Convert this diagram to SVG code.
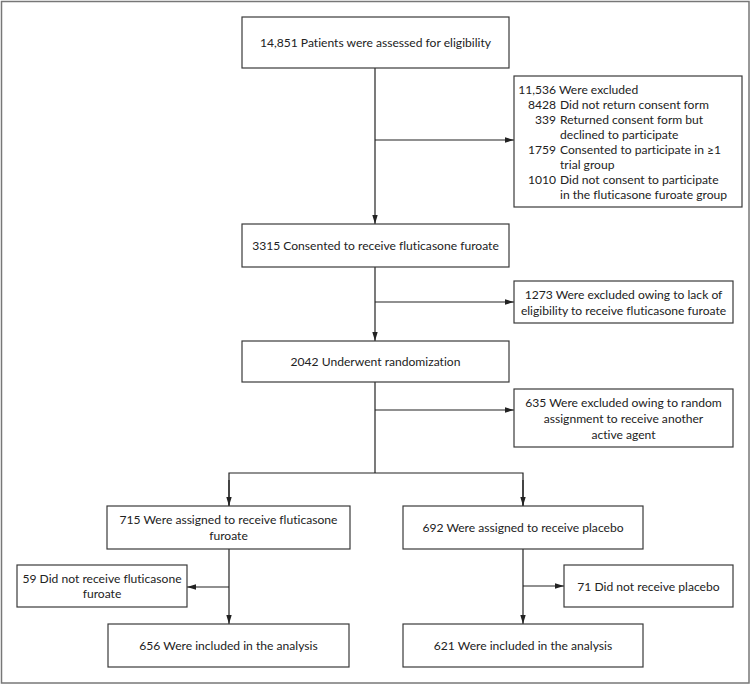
<svg xmlns="http://www.w3.org/2000/svg" width="751" height="685" viewBox="0 0 751 685">
<style>
  .box { fill: #ffffff; stroke: #3a3a3a; stroke-width: 1.2; }
  .t { font-family: Lato, "Open Sans", sans-serif; font-size: 12.1px; fill: #222; font-variant-ligatures: none; }
  .c { text-anchor: middle; }
  .e { text-anchor: end; }
  .ln { stroke: #222; stroke-width: 1.2; fill: none; }
</style>
<defs>
  <marker id="ah" viewBox="0 0 10 10" refX="10" refY="5" markerWidth="9" markerHeight="9" markerUnits="userSpaceOnUse" orient="auto">
    <path d="M0,2 L10,5 L0,8 Z" fill="#222"/>
  </marker>
</defs>
<rect x="0" y="0" width="751" height="685" fill="#ffffff"/>
<rect x="1.5" y="1.5" width="747.5" height="681.5" fill="none" stroke="#777" stroke-width="1.5"/>

<g id="connectors">
  <line class="ln" x1="375" y1="68" x2="375" y2="224" marker-end="url(#ah)"/>
  <line class="ln" x1="375" y1="140" x2="514" y2="140" marker-end="url(#ah)"/>
  <line class="ln" x1="375" y1="267" x2="375" y2="341" marker-end="url(#ah)"/>
  <line class="ln" x1="375" y1="302" x2="514" y2="302" marker-end="url(#ah)"/>
  <line class="ln" x1="375" y1="382" x2="375" y2="473"/>
  <line class="ln" x1="375" y1="410" x2="514" y2="410" marker-end="url(#ah)"/>
  <polyline class="ln" points="229,506 229,473 523,473 523,506" />
  <line class="ln" x1="229" y1="480" x2="229" y2="506" marker-end="url(#ah)"/>
  <line class="ln" x1="523" y1="480" x2="523" y2="506" marker-end="url(#ah)"/>
  <line class="ln" x1="229" y1="549" x2="229" y2="624" marker-end="url(#ah)"/>
  <line class="ln" x1="229" y1="587" x2="187" y2="587" marker-end="url(#ah)"/>
  <line class="ln" x1="523" y1="549" x2="523" y2="624" marker-end="url(#ah)"/>
  <line class="ln" x1="523" y1="586" x2="564" y2="586" marker-end="url(#ah)"/>
</g>

<g id="assessed">
  <rect class="box" x="242" y="17" width="267" height="51"/>
  <text class="t c" x="375.5" y="47">14,851 Patients were assessed for eligibility</text>
</g>

<g id="excluded1">
  <rect class="box" x="514" y="76" width="228" height="131"/>
  <text class="t e" x="556" y="94">11,536</text>
  <text class="t" x="559" y="94">Were excluded</text>
  <text class="t e" x="556" y="109">8428</text>
  <text class="t" x="560" y="109">Did not return consent form</text>
  <text class="t e" x="556" y="124">339</text>
  <text class="t" x="560" y="124">Returned consent form but</text>
  <text class="t" x="560" y="139">declined to participate</text>
  <text class="t e" x="556" y="154">1759</text>
  <text class="t" x="560" y="154">Consented to participate in ≥1</text>
  <text class="t" x="560" y="169">trial group</text>
  <text class="t e" x="556" y="184">1010</text>
  <text class="t" x="560" y="184">Did not consent to participate</text>
  <text class="t" x="560" y="199">in the fluticasone furoate group</text>
</g>

<g id="consented">
  <rect class="box" x="242" y="224" width="267" height="43"/>
  <text class="t c" x="375.5" y="249.5">3315 Consented to receive fluticasone furoate</text>
</g>

<g id="excluded2">
  <rect class="box" x="514" y="281" width="219" height="42"/>
  <text class="t c" x="623.5" y="299">1273 Were excluded owing to lack of</text>
  <text class="t c" x="623.5" y="315">eligibility to receive fluticasone furoate</text>
</g>

<g id="randomized">
  <rect class="box" x="242" y="341" width="267" height="41"/>
  <text class="t c" x="375.5" y="365.5">2042 Underwent randomization</text>
</g>

<g id="excluded3">
  <rect class="box" x="514" y="389" width="219" height="58"/>
  <text class="t c" x="623.5" y="407">635 Were excluded owing to random</text>
  <text class="t c" x="623.5" y="423">assignment to receive another</text>
  <text class="t c" x="623.5" y="439">active agent</text>
</g>

<g id="fluticasone">
  <rect class="box" x="107" y="506" width="243" height="43"/>
  <text class="t c" x="228.5" y="524">715 Were assigned to receive fluticasone</text>
  <text class="t c" x="228.5" y="540">furoate</text>
</g>

<g id="placebo">
  <rect class="box" x="403" y="506" width="240" height="43"/>
  <text class="t c" x="523" y="532">692 Were assigned to receive placebo</text>
</g>

<g id="notflut">
  <rect class="box" x="17" y="565" width="170" height="42"/>
  <text class="t c" x="102" y="583">59 Did not receive fluticasone</text>
  <text class="t c" x="102" y="598">furoate</text>
</g>

<g id="notplacebo">
  <rect class="box" x="564" y="565" width="169" height="42"/>
  <text class="t c" x="648.5" y="590.5">71 Did not receive placebo</text>
</g>

<g id="analysis1">
  <rect class="box" x="108" y="624" width="241" height="43"/>
  <text class="t c" x="228.5" y="650">656 Were included in the analysis</text>
</g>

<g id="analysis2">
  <rect class="box" x="403" y="624" width="240" height="43"/>
  <text class="t c" x="523" y="650">621 Were included in the analysis</text>
</g>
</svg>
